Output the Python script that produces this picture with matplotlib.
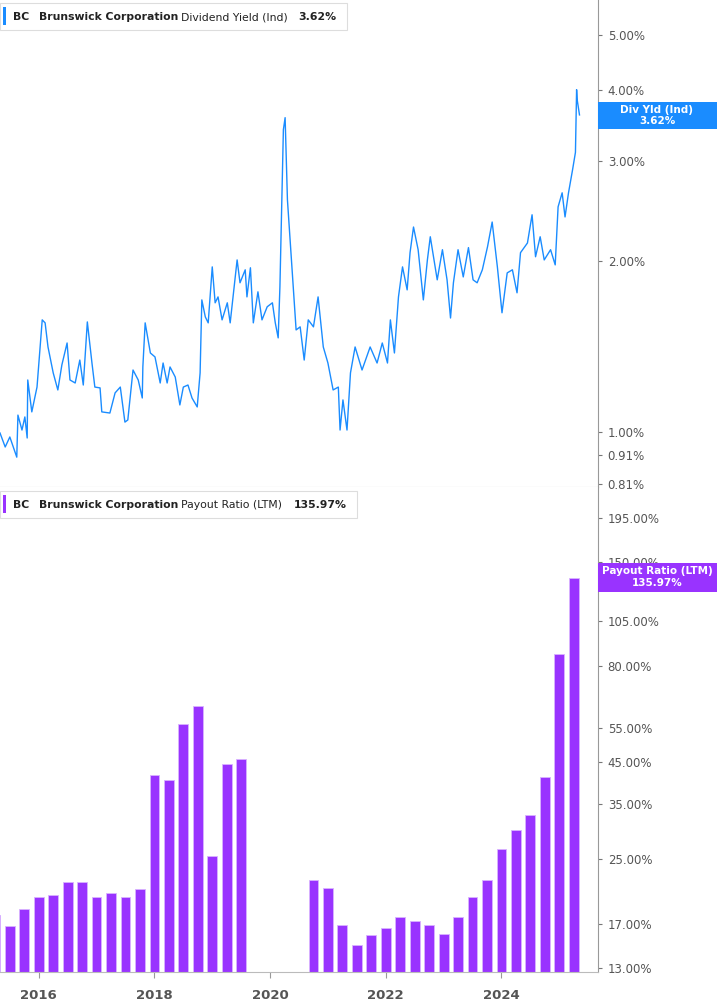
import matplotlib
matplotlib.use("Agg")
import matplotlib.pyplot as plt
from matplotlib.ticker import FixedLocator, NullLocator, NullFormatter
import numpy as np

yield_dates = [2015.33,2015.42,2015.50,2015.62,2015.64,2015.71,2015.76,2015.80,2015.81,2015.88,2015.97,
 2016.06,2016.11,2016.16,2016.25,2016.33,2016.40,2016.49,2016.54,2016.63,2016.71,2016.77,2016.84,2016.92,2016.97,
 2017.06,2017.09,2017.23,2017.32,2017.41,2017.49,2017.54,2017.63,2017.72,2017.79,2017.80,2017.84,2017.93,
 2018.01,2018.10,2018.15,2018.22,2018.27,2018.36,2018.44,2018.50,2018.58,2018.65,2018.74,2018.79,2018.82,2018.88,2018.93,
 2019.00,2019.05,2019.10,2019.17,2019.26,2019.31,2019.43,2019.48,2019.57,2019.60,2019.66,2019.71,2019.79,2019.86,2019.95,
 2020.04,2020.09,2020.14,2020.17,2020.23,2020.26,2020.30,2020.35,2020.40,2020.45,2020.52,2020.59,2020.66,2020.75,2020.83,2020.92,
 2021.00,2021.09,2021.18,2021.21,2021.26,2021.33,2021.39,2021.47,2021.59,2021.73,2021.85,2021.94,
 2022.03,2022.08,2022.15,2022.22,2022.29,2022.37,2022.42,2022.48,2022.56,2022.65,2022.72,2022.77,2022.89,2022.98,
 2023.06,2023.12,2023.17,2023.25,2023.34,2023.43,2023.51,2023.58,2023.67,2023.76,2023.84,2023.93,
 2024.01,2024.10,2024.19,2024.27,2024.33,2024.45,2024.53,2024.59,2024.67,2024.74,2024.85,2024.93,2024.98,
 2025.05,2025.10,2025.16,2025.23,2025.28,2025.30,2025.31,2025.35]
yield_vals = [0.996,0.941,0.980,0.903,1.071,1.008,1.063,0.976,1.235,1.085,1.200,
 1.576,1.557,1.412,1.271,1.186,1.313,1.435,1.235,1.220,1.339,1.210,1.563,1.323,1.200,
 1.196,1.085,1.080,1.172,1.200,1.041,1.050,1.286,1.235,1.148,1.302,1.557,1.378,
 1.356,1.220,1.323,1.220,1.302,1.250,1.116,1.200,1.210,1.148,1.107,1.271,1.709,1.595,1.557,
 1.954,1.689,1.730,1.576,1.689,1.557,2.010,1.832,1.931,1.730,1.947,1.557,1.766,1.576,1.662,
 1.689,1.557,1.465,1.802,3.41,3.58,2.565,2.153,1.802,1.513,1.532,1.339,1.576,1.532,1.730,1.412,
 1.323,1.186,1.200,1.008,1.139,1.008,1.271,1.412,1.286,1.412,1.323,1.435,
 1.323,1.576,1.378,1.730,1.954,1.780,2.070,2.297,2.095,1.709,2.010,2.208,1.854,2.095,
 1.854,1.588,1.832,2.095,1.876,2.113,1.854,1.832,1.931,2.121,2.344,1.954,
 1.622,1.907,1.931,1.759,2.070,2.153,2.414,2.036,2.208,2.010,2.095,1.970,2.493,
 2.639,2.393,2.639,2.897,3.11,4.01,3.85,3.62]

payout_dates = [2015.25 + 0.25*i for i in range(41)]
payout_vals = [17.9,16.7,18.5,19.9,20.2,21.8,21.8,20.0,20.4,19.9,20.9,41.5,40.3,56.4,62.8,25.5,44.3,45.7,
 np.nan,np.nan,np.nan,np.nan,
 22.1,21.0,16.8,14.9,15.9,16.5,17.7,17.3,16.9,16.0,17.7,19.9,22.1,26.6,29.8,32.6,41.0,86.3,135.97]

top_ticks = [5.0,4.0,3.0,2.0,1.0,0.91,0.81]
bot_ticks = [195,150,105,80,55,45,35,25,17,13]
year_ticks = [2016,2018,2020,2022,2024]

BLUE = "#1a8cff"
PURPLE = "#9933ff"
GRAY = "#555555"

fig = plt.figure(figsize=(7.17,10.05), dpi=100)
W, H = 717, 1005
axW = 598/W
ax1 = fig.add_axes([0, 1-487/H, axW, 487/H])
ax2 = fig.add_axes([0, 1-972/H, axW, (972-487)/H])

for ax in (ax1, ax2):
    ax.set_xlim(2015.33, 2025.67)
    ax.set_yscale("log")
    ax.yaxis.tick_right()
    for s in ("top","left"):
        ax.spines[s].set_visible(False)
    ax.spines["right"].set_color("#999999")
    ax.spines["bottom"].set_color("#bbbbbb")
    ax.yaxis.set_minor_locator(NullLocator())
    ax.yaxis.set_minor_formatter(NullFormatter())
    ax.tick_params(axis="y", length=3, color="#777777", labelsize=8.5, labelcolor=GRAY, pad=4)

ax1.plot(yield_dates, yield_vals, color=BLUE, lw=1.0)
ax1.set_ylim(0.80, 5.77)
ax1.yaxis.set_major_locator(FixedLocator(top_ticks))
ax1.set_yticklabels([f"{t:.2f}%" for t in top_ticks])
ax1.set_xticks([])

vals = np.array(payout_vals)
ax2.bar(payout_dates, vals-12.7, width=0.17, bottom=12.7, color=PURPLE,
        edgecolor="#d9b3ff", linewidth=0.6)
ax2.set_ylim(12.7, 235)
ax2.yaxis.set_major_locator(FixedLocator(bot_ticks))
ax2.set_yticklabels([f"{t:.2f}%" for t in bot_ticks])
ax2.set_xticks(year_ticks)
ax2.set_xticklabels([str(y) for y in year_ticks], fontsize=9.5, fontweight="bold", color=GRAY)
ax2.tick_params(axis="x", length=4, color="#999999", pad=8)

FS = 7.8
def legend(y_top, color, label, value, box_w):
    yt = 1 - y_top/H
    fig.patches.append(plt.Rectangle((0, yt-27/H), box_w/W, 27/H, transform=fig.transFigure,
                                     facecolor="white", edgecolor="#dddddd", lw=0.8))
    fig.patches.append(plt.Rectangle((3/W, yt-22/H), 3/W, 18/H, transform=fig.transFigure,
                                     facecolor=color, edgecolor="none"))
    yc = yt - 14/H
    fig.text(13/W, yc, "BC", fontsize=FS, fontweight="bold", color="#222222", va="center")
    fig.text(39/W, yc, "Brunswick Corporation", fontsize=FS, fontweight="bold", color="#222222", va="center")
    fig.text(181/W, yc, label, fontsize=FS, color="#222222", va="center")
    fig.text((298 if value == "3.62%" else 294)/W, yc, value, fontsize=FS, fontweight="bold",
             color="#222222", va="center")

legend(3, BLUE, "Dividend Yield (Ind)", "3.62%", 347)
legend(491, PURPLE, "Payout Ratio (LTM)", "135.97%", 357)

def tag(y_top, y_bot, color, l1, l2):
    fig.patches.append(plt.Rectangle((598/W, 1-y_bot/H), 119/W, (y_bot-y_top)/H,
                                     transform=fig.transFigure, facecolor=color, edgecolor="none", zorder=5))
    yc = 1 - (y_top+y_bot)/2/H
    fig.text(657/W, yc+6/H, l1, fontsize=7.5, fontweight="bold", color="white", ha="center", va="center", zorder=6)
    fig.text(657/W, yc-6/H, l2, fontsize=7.5, fontweight="bold", color="white", ha="center", va="center", zorder=6)

tag(102, 129, BLUE, "Div Yld (Ind)", "3.62%")
tag(563, 592, PURPLE, "Payout Ratio (LTM)", "135.97%")

fig.savefig("out.png", dpi=100)
